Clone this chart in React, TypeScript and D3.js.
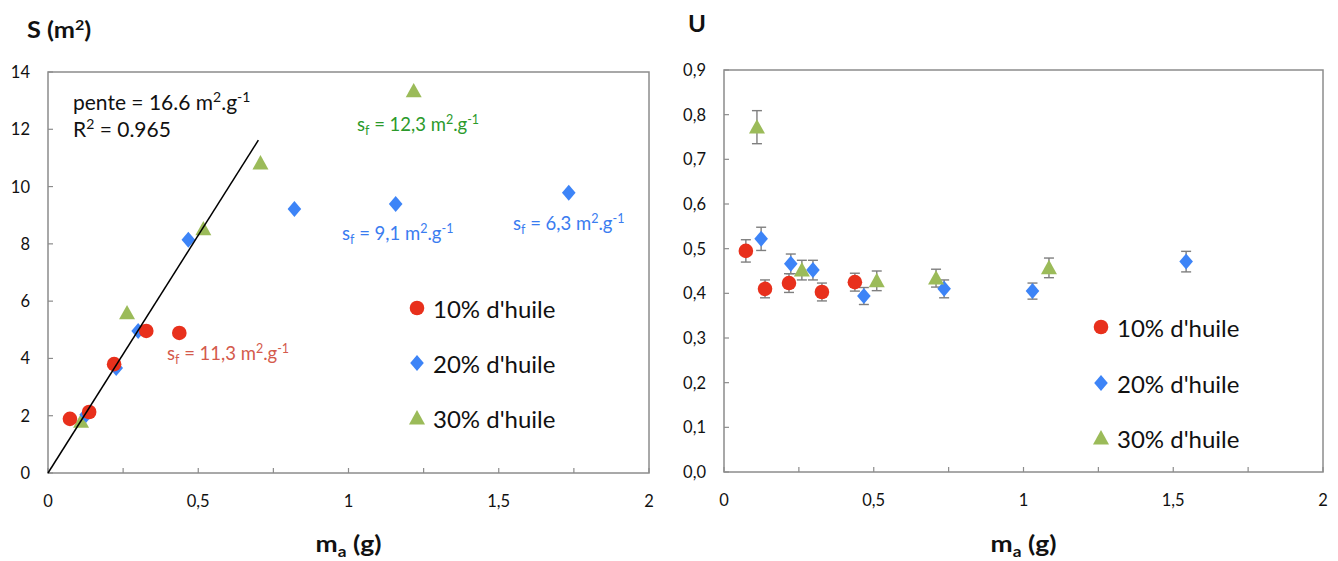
import React from "react";
import * as d3 from "d3";

// ---------- data ----------
const seriesNames = ["10% d'huile", "20% d'huile", "30% d'huile"];

// Left chart: S (m²) vs m_a (g)
const sX10 = [0.073, 0.137, 0.22, 0.327, 0.437];
const sY10 = [1.89, 2.13, 3.8, 4.96, 4.89];
const sX20 = [0.127, 0.227, 0.3, 0.467, 0.82, 1.157, 1.733];
const sY20 = [2.03, 3.67, 4.96, 8.14, 9.22, 9.39, 9.78];
const sX30 = [0.11, 0.263, 0.517, 0.707, 1.217];
const sY30 = [1.8, 5.59, 8.52, 10.82, 13.34];
const fitSlope = 16.6;
const fitXRange = [0, 0.7];

// Right chart: U vs m_a (g), with error
const uX10 = [0.073, 0.137, 0.217, 0.327, 0.437];
const uY10 = [0.495, 0.41, 0.423, 0.403, 0.425];
const uE10 = [0.025, 0.02, 0.021, 0.02, 0.02];
const uX20 = [0.124, 0.223, 0.297, 0.467, 0.735, 1.03, 1.543];
const uY20 = [0.522, 0.466, 0.452, 0.394, 0.41, 0.405, 0.471];
const uE20 = [0.026, 0.022, 0.022, 0.019, 0.02, 0.018, 0.023];
const uX30 = [0.11, 0.26, 0.51, 0.708, 1.085];
const uY30 = [0.772, 0.452, 0.428, 0.434, 0.457];
const uE30 = [0.037, 0.022, 0.022, 0.02, 0.022];

const xTicks = [0, 0.5, 1, 1.5, 2];
const xMinorTicks = [0, 0.25, 0.5, 0.75, 1, 1.25, 1.5, 1.75, 2];
const sTicks = [0, 2, 4, 6, 8, 10, 12, 14];
const uTicks = [0, 0.1, 0.2, 0.3, 0.4, 0.5, 0.6, 0.7, 0.8, 0.9];

const COLORS = ["#e8301c", "#3d84f7", "#9bbb59"];
const FONT = "Lato, 'Open Sans', sans-serif";
const fmt = (v: number, d: number) => v.toFixed(d).replace(".", ",");

// ---------- markers ----------
function Marker({ kind, x, y }: { kind: number; x: number; y: number }) {
  if (kind === 0) return <circle cx={x} cy={y} r={7.3} fill={COLORS[0]} />;
  if (kind === 1) {
    const s = 8;
    return <path d={`M${x},${y - s}L${x + s * 0.85},${y}L${x},${y + s}L${x - s * 0.85},${y}Z`} fill={COLORS[1]} />;
  }
  const h = 8;
  return <path d={`M${x},${y - h}L${x + h},${y + h * 0.8}L${x - h},${y + h * 0.8}Z`} fill={COLORS[2]} />;
}

function Frame({ x, y, yTicks, yFmt, minorY }: any) {
  const [x0, x1] = x.range();
  const [y0, y1] = y.range();
  const cx = (x0 + x1) / 2;
  return (
    <g>
      <rect x={x0} y={y1} width={x1 - x0} height={y0 - y1} fill="none" stroke="#8c8c8c" strokeWidth={1.5} />
      {xMinorTicks.map((t: number) => (
        <line key={"xt" + t} x1={x(t)} x2={x(t)} y1={y0} y2={y0 - 5} stroke="#8c8c8c" strokeWidth={1.2} />
      ))}
      {minorY.map((t: number) => (
        <line key={"yt" + t} x1={x0} x2={x0 + 5} y1={y(t)} y2={y(t)} stroke="#8c8c8c" strokeWidth={1.2} />
      ))}
      {xTicks.map((t: number) => (
        <text key={"xl" + t} x={x(t)} y={y0 + 34} textAnchor="middle" fontSize={16.5} fontFamily={FONT} fill="#111">
          {t === 0 ? "0" : fmt(t, t % 1 === 0 ? 0 : 1)}
        </text>
      ))}
      {yTicks.map((t: number) => (
        <text key={"yl" + t} x={x0 - 18} y={y(t) + 6} textAnchor="end" fontSize={16.5} fontFamily={FONT} fill="#111">
          {yFmt(t)}
        </text>
      ))}
      <g transform={`translate(${cx},552) scale(1.15,1)`}>
        <text x={0} y={0} textAnchor="middle" fontSize={23} fontWeight="bold" fontFamily={FONT} fill="#111">
          m<tspan fontSize={15} dy={5}>a</tspan>
          <tspan dy={-5}> (g)</tspan>
        </text>
      </g>
    </g>
  );
}

function Legend({ mx, tx, ys }: { mx: number; tx: number; ys: number[] }) {
  return (
    <g>
      {seriesNames.map((n, i) => (
        <g key={n}>
          <Marker kind={i} x={mx} y={ys[i] - 10} />
          <text x={tx} y={ys[i]} fontSize={24} fontFamily={FONT} fill="#111">
            {n}
          </text>
        </g>
      ))}
    </g>
  );
}

function SfLabel({ x, y, val, color }: { x: number; y: number; val: string; color: string }) {
  return (
    <text x={x} y={y} fontSize={18.5} fontFamily={FONT} fill={color}>
      s<tspan fontSize={12.5} dy={4}>f</tspan>
      <tspan dy={-4}> = {val} m</tspan>
      <tspan fontSize={12.5} dy={-7}>2</tspan>
      <tspan dy={7}>.g</tspan>
      <tspan fontSize={12.5} dy={-7}>-1</tspan>
    </text>
  );
}

export default function App() {
  // Left chart scales
  const xL = d3.scaleLinear().domain([0, 2]).range([48, 649]);
  const yL = d3.scaleLinear().domain([0, 14]).range([473, 72]);
  // Right chart scales
  const xR = d3.scaleLinear().domain([0, 2]).range([724, 1323]);
  const yR = d3.scaleLinear().domain([0, 0.9]).range([472, 70]);

  const sSeries = [
    { xs: sX10, ys: sY10 },
    { xs: sX20, ys: sY20 },
    { xs: sX30, ys: sY30 },
  ];
  const uSeries = [
    { xs: uX10, ys: uY10, es: uE10 },
    { xs: uX20, ys: uY20, es: uE20 },
    { xs: uX30, ys: uY30, es: uE30 },
  ];
  const fitLine = d3
    .line<number>()
    .x((d) => xL(d))
    .y((d) => yL(d * fitSlope))(fitXRange);

  return (
    <svg width={1338} height={561} style={{ position: "absolute", left: 0, top: 0, background: "#fff" }}>
      <rect width={1338} height={561} fill="#fff" />
      {/* ---------- Left chart ---------- */}
      <g transform="translate(27,38) scale(1.15,1)">
        <text x={0} y={0} fontSize={22} fontWeight="bold" fontFamily={FONT} fill="#111">
          S (m<tspan fontSize={14} dy={-8}>2</tspan>
          <tspan dy={8}>)</tspan>
        </text>
      </g>
      <Frame x={xL} y={yL} yTicks={sTicks} yFmt={(t: number) => String(t)} minorY={sTicks} />
      {[2, 1, 0].map((i) =>
        sSeries[i].xs.map((v, j) => <Marker key={`s${i}-${j}`} kind={i} x={xL(v)} y={yL(sSeries[i].ys[j])} />)
      )}
      <path d={fitLine || ""} stroke="#000" strokeWidth={1.5} fill="none" />
      <text x={73} y={110} fontSize={21} fontFamily={FONT} fill="#111">
        pente = 16.6 m<tspan fontSize={14} dy={-8}>2</tspan>
        <tspan dy={8}>.g</tspan>
        <tspan fontSize={14} dy={-8}>-1</tspan>
      </text>
      <text x={73} y={137} fontSize={21} fontFamily={FONT} fill="#111">
        R<tspan fontSize={14} dy={-8}>2</tspan>
        <tspan dy={8}> = 0.965</tspan>
      </text>
      <SfLabel x={357} y={131} val="12,3" color="#2b9a2b" />
      <SfLabel x={342} y={240} val="9,1" color="#3a7cf0" />
      <SfLabel x={513} y={230} val="6,3" color="#3a7cf0" />
      <SfLabel x={167} y={360} val="11,3" color="#d45a4c" />
      <Legend mx={417} tx={433} ys={[318, 373, 428]} />

      {/* ---------- Right chart ---------- */}
      <g transform="translate(688,32) scale(1.1,1)">
        <text x={0} y={0} fontSize={22} fontWeight="bold" fontFamily={FONT} fill="#111">
          U
        </text>
      </g>
      <Frame x={xR} y={yR} yTicks={uTicks} yFmt={(t: number) => fmt(t, 1)} minorY={uTicks} />
      {uSeries.map((s, i) =>
        s.xs.map((v, j) => {
          const cx = xR(v);
          const top = yR(s.ys[j] + s.es[j]);
          const bot = yR(s.ys[j] - s.es[j]);
          return (
            <g key={`e${i}-${j}`} stroke="#7f7f7f" strokeWidth={1.4}>
              <line x1={cx} x2={cx} y1={top} y2={bot} />
              <line x1={cx - 5} x2={cx + 5} y1={top} y2={top} />
              <line x1={cx - 5} x2={cx + 5} y1={bot} y2={bot} />
            </g>
          );
        })
      )}
      {uSeries.map((s, i) =>
        s.xs.map((v, j) => <Marker key={`u${i}-${j}`} kind={i} x={xR(v)} y={yR(s.ys[j])} />)
      )}
      <Legend mx={1101} tx={1117} ys={[337, 393, 448]} />
    </svg>
  );
}
